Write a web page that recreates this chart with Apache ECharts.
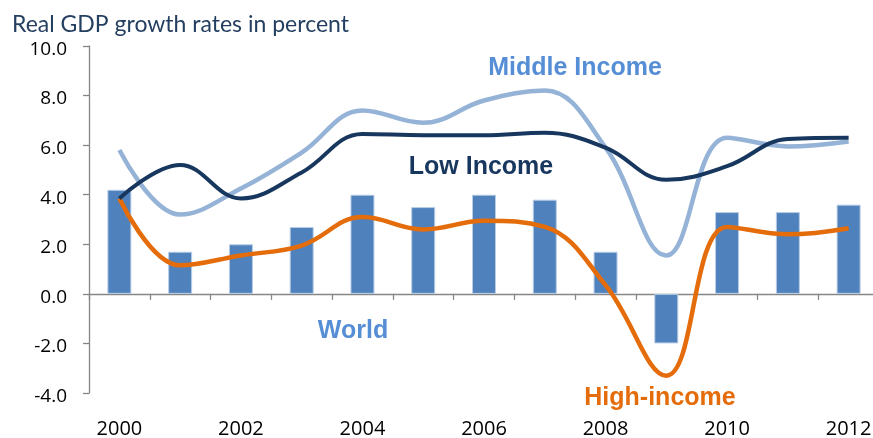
<!DOCTYPE html>
<html>
<head>
<meta charset="utf-8">
<script src="https://cdn.jsdelivr.net/npm/echarts@6/dist/echarts.min.js"></script>
<style>
  html, body { margin: 0; padding: 0; background: #ffffff; }
  #chart { width: 873px; height: 438px; }
</style>
</head>
<body>
<div id="chart"></div>
<script>
// Real GDP growth rates, percent
const years = ['2000', '2001', '2002', '2003', '2004', '2005', '2006',
               '2007', '2008', '2009', '2010', '2011', '2012'];
const world        = [4.2, 1.7, 2.0, 2.7, 4.0, 3.5, 4.0, 3.8, 1.7, -2.0, 3.3, 3.3, 3.6];
const middleIncome = [5.8, 3.2, 4.25, 5.7, 7.4, 6.9, 7.8, 8.2, 5.9, 1.55, 6.3, 5.95, 6.15];
const lowIncome    = [3.85, 5.2, 3.85, 4.9, 6.45, 6.4, 6.4, 6.5, 5.9, 4.6, 5.15, 6.25, 6.3];
const highIncome   = [3.85, 1.15, 1.55, 1.95, 3.1, 2.6, 2.95, 2.7, 0.35, -3.3, 2.7, 2.4, 2.65];

const yMin = -4, yMax = 10, yStep = 2;

const axisGrey = '#868686';
const numFont = '"Open Sans", "Noto Sans", sans-serif';
const tagFont = 'bold 25px "Liberation Sans", Arial, sans-serif';

const chart = echarts.init(document.getElementById('chart'), null, { renderer: 'canvas' });

chart.setOption({
  animation: false,
  backgroundColor: '#ffffff',
  grid: { left: 89, top: 46, right: -6, bottom: 45, containLabel: false, outerBoundsMode: 'none' },
  xAxis: [
    {
      // baseline through zero with the category ticks
      type: 'category',
      data: years,
      position: 'top',
      boundaryGap: true,
      axisLine: { show: true, onZero: true, lineStyle: { color: axisGrey, width: 1.3 } },
      axisTick: { show: true, inside: true, interval: 0, length: 6, lineStyle: { color: axisGrey, width: 1.3 } },
      axisLabel: { show: false },
      splitLine: { show: false }
    },
    {
      // year labels along the bottom edge
      type: 'category',
      data: years,
      position: 'bottom',
      boundaryGap: true,
      axisLine: { show: false, onZero: false },
      axisTick: { show: false },
      axisLabel: {
        show: true,
        interval: 1,
        margin: 26,
        color: '#000000',
        fontFamily: numFont,
        fontSize: 20
      },
      splitLine: { show: false }
    }
  ],
  yAxis: {
    type: 'value',
    min: yMin,
    max: yMax,
    interval: yStep,
    axisLine: { show: true, lineStyle: { color: axisGrey, width: 1.3 } },
    axisTick: { show: true, inside: false, length: 6, lineStyle: { color: axisGrey, width: 1.3 } },
    axisLabel: {
      margin: 22,
      verticalAlign: 'middle',
      formatter: v => '{n|' + v.toFixed(1) + '}',
      rich: {
        n: {
          color: '#000000',
          fontFamily: numFont,
          fontSize: 19,
          padding: [7, 0, 0, 0]
        }
      }
    },
    splitLine: { show: false }
  },
  series: [
    {
      name: 'World',
      type: 'bar',
      xAxisIndex: 0,
      data: world,
      barWidth: 24,
      itemStyle: { color: '#4F81BD', borderColor: '#B9CDE5', borderWidth: 1 },
      z: 1
    },
    {
      name: 'Middle Income',
      type: 'line',
      xAxisIndex: 0,
      data: middleIncome,
      smooth: 0.4,
      symbol: 'none',
      lineStyle: { color: '#95B3D7', width: 4.5 },
      z: 2
    },
    {
      name: 'High-income',
      type: 'line',
      xAxisIndex: 0,
      data: highIncome,
      smooth: 0.4,
      symbol: 'none',
      lineStyle: { color: '#E46C0A', width: 4.5 },
      z: 3
    },
    {
      name: 'Low Income',
      type: 'line',
      xAxisIndex: 0,
      data: lowIncome,
      smooth: 0.4,
      symbol: 'none',
      lineStyle: { color: '#17375E', width: 4 },
      z: 4
    }
  ],
  graphic: [
    {
      type: 'text', x: 12, y: 25,
      style: {
        text: 'Real GDP growth rates in percent',
        fill: '#243F60',
        font: '23px Lato, "Open Sans", sans-serif',
        textAlign: 'left', textVerticalAlign: 'middle'
      }
    },
    {
      type: 'text', x: 575, y: 68,
      style: { text: 'Middle Income', fill: '#558ED5', font: tagFont, textAlign: 'center', textVerticalAlign: 'middle' }
    },
    {
      type: 'text', x: 481, y: 167,
      style: { text: 'Low Income', fill: '#17375E', font: tagFont, textAlign: 'center', textVerticalAlign: 'middle' }
    },
    {
      type: 'text', x: 353, y: 331,
      style: { text: 'World', fill: '#558ED5', font: tagFont, textAlign: 'center', textVerticalAlign: 'middle' }
    },
    {
      type: 'text', x: 660, y: 398,
      style: { text: 'High-income', fill: '#E46C0A', font: tagFont, textAlign: 'center', textVerticalAlign: 'middle' }
    }
  ]
});
</script>
</body>
</html>
